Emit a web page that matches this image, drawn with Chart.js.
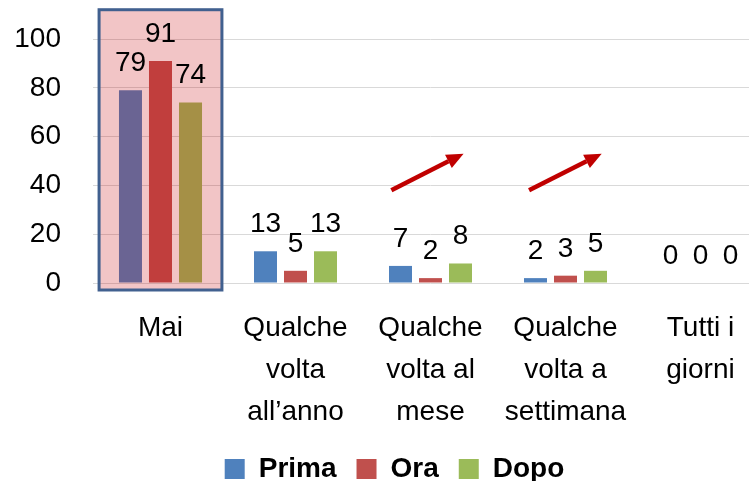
<!DOCTYPE html>
<html>
<head>
<meta charset="utf-8">
<style>
  html, body { margin: 0; padding: 0; background: #ffffff; overflow: hidden; }
  #wrap { position: absolute; left: 0; top: 0; width: 790px; height: 481px; }
</style>
<script src="https://cdn.jsdelivr.net/npm/chart.js@4.4.1/dist/chart.umd.min.js"></script>
</head>
<body>
<div id="wrap"><canvas id="chart" width="790" height="481"></canvas></div>
<script>
// Frequency categories (multi-line axis labels)
const categories = [
  'Mai',
  ['Qualche', 'volta', 'all’anno'],
  ['Qualche', 'volta al', 'mese'],
  ['Qualche', 'volta a', 'settimana'],
  ['Tutti i', 'giorni']
];
const seriesNames = ['Prima', 'Ora', 'Dopo'];
const prima = [79, 13, 7, 2, 0];
const ora   = [91, 5, 2, 3, 0];
const dopo  = [74, 13, 8, 5, 0];
const yTickValues = [0, 20, 40, 60, 80, 100];

const seriesColors = ['#4F81BD', '#C0504D', '#9BBB59'];
const FONT = '"Liberation Sans", Arial, sans-serif';

// Highlighted category and trend arrows, placed in scale units
const highlight = { index: 0, halfWidth: 0.455, top: 112, bottomPx: 7 };
const arrows = [
  { index: 2, x0: -0.29, y0: 38, x1: 0.245, y1: 53 },
  { index: 3, x0: -0.27, y0: 38, x1: 0.268, y1: 53 }
];

const overlayPlugin = {
  id: 'overlay',
  afterDatasetsDraw(chart) {
    const ctx = chart.ctx;
    const xs = chart.scales.x, ys = chart.scales.y;
    const catW = (chart.chartArea.right - chart.chartArea.left) / categories.length;

    // translucent red box over the first group
    const cx = xs.getPixelForValue(highlight.index);
    const left = cx - highlight.halfWidth * catW;
    const right = cx + highlight.halfWidth * catW;
    const top = ys.getPixelForValue(highlight.top);
    const bottom = ys.getPixelForValue(0) + highlight.bottomPx;
    ctx.save();
    ctx.fillStyle = 'rgba(200,4,9,0.23)';
    ctx.fillRect(left, top, right - left, bottom - top);
    ctx.strokeStyle = '#41608F';
    ctx.lineWidth = 3;
    ctx.strokeRect(left, top, right - left, bottom - top);
    ctx.restore();

    // rising-trend arrows
    arrows.forEach(a => {
      const c = xs.getPixelForValue(a.index);
      const x0 = c + a.x0 * catW, y0 = ys.getPixelForValue(a.y0);
      const x1 = c + a.x1 * catW, y1 = ys.getPixelForValue(a.y1);
      const ang = Math.atan2(y1 - y0, x1 - x0);
      const headLen = 17, headHalf = 7.5;
      const bx = x1 - headLen * Math.cos(ang), by = y1 - headLen * Math.sin(ang);
      ctx.save();
      ctx.strokeStyle = '#C00000';
      ctx.fillStyle = '#C00000';
      ctx.lineWidth = 4.5;
      ctx.beginPath();
      ctx.moveTo(x0, y0);
      ctx.lineTo(bx, by);
      ctx.stroke();
      ctx.beginPath();
      ctx.moveTo(x1, y1);
      ctx.lineTo(bx + headHalf * Math.sin(ang), by - headHalf * Math.cos(ang));
      ctx.lineTo(bx - headHalf * Math.sin(ang), by + headHalf * Math.cos(ang));
      ctx.closePath();
      ctx.fill();
      ctx.restore();
    });

    // value labels above bars
    ctx.save();
    ctx.font = '28px ' + FONT;
    ctx.fillStyle = '#000000';
    ctx.textAlign = 'center';
    ctx.textBaseline = 'alphabetic';
    chart.data.datasets.forEach((ds, i) => {
      const meta = chart.getDatasetMeta(i);
      meta.data.forEach((bar, j) => {
        ctx.fillText(String(ds.data[j]), bar.x, bar.y - 19);
      });
    });
    ctx.restore();
  }
};

new Chart(document.getElementById('chart'), {
  type: 'bar',
  data: {
    labels: categories,
    datasets: [
      { label: seriesNames[0], data: prima, backgroundColor: seriesColors[0] },
      { label: seriesNames[1], data: ora,   backgroundColor: seriesColors[1] },
      { label: seriesNames[2], data: dopo,  backgroundColor: seriesColors[2] }
    ]
  },
  options: {
    responsive: false,
    animation: false,
    devicePixelRatio: 1,
    layout: { padding: { left: 0, top: 39, right: 1, bottom: 0 } },
    datasets: { bar: { categoryPercentage: 0.667, barPercentage: 0.767, borderWidth: 0 } },
    scales: {
      x: {
        grid: { display: false },
        border: { display: false },
        ticks: {
          color: '#000000',
          font: { family: FONT, size: 28, lineHeight: 1.5 },
          padding: 16,
          maxRotation: 0,
          autoSkip: false
        },
        afterFit(scale) { scale.height = 152; }
      },
      y: {
        min: 0,
        max: 100,
        afterBuildTicks(scale) { scale.ticks = yTickValues.map(v => ({ value: v })); },
        // invisible tick marks keep the labels clear of the plot
        grid: { color: '#D9D9D9', lineWidth: 1, drawTicks: true, tickLength: 32, tickColor: 'rgba(0,0,0,0)' },
        border: { display: false },
        ticks: {
          color: '#000000',
          font: { family: FONT, size: 28 },
          padding: 0
        },
        afterFit(scale) { scale.width = 93; }
      },
      // empty spacer on the right so the legend stays centred on the page
      yRight: {
        position: 'right',
        display: true,
        grid: { display: false },
        border: { display: false },
        ticks: { display: false },
        afterFit(scale) { scale.width = 21; }
      }
    },
    plugins: {
      legend: {
        position: 'bottom',
        maxHeight: 46,
        labels: {
          boxWidth: 20,
          boxHeight: 20,
          padding: 20,
          color: '#000000',
          font: { family: FONT, size: 28, weight: 'bold' }
        }
      },
      tooltip: { enabled: false }
    }
  },
  plugins: [overlayPlugin]
});
</script>
</body>
</html>
